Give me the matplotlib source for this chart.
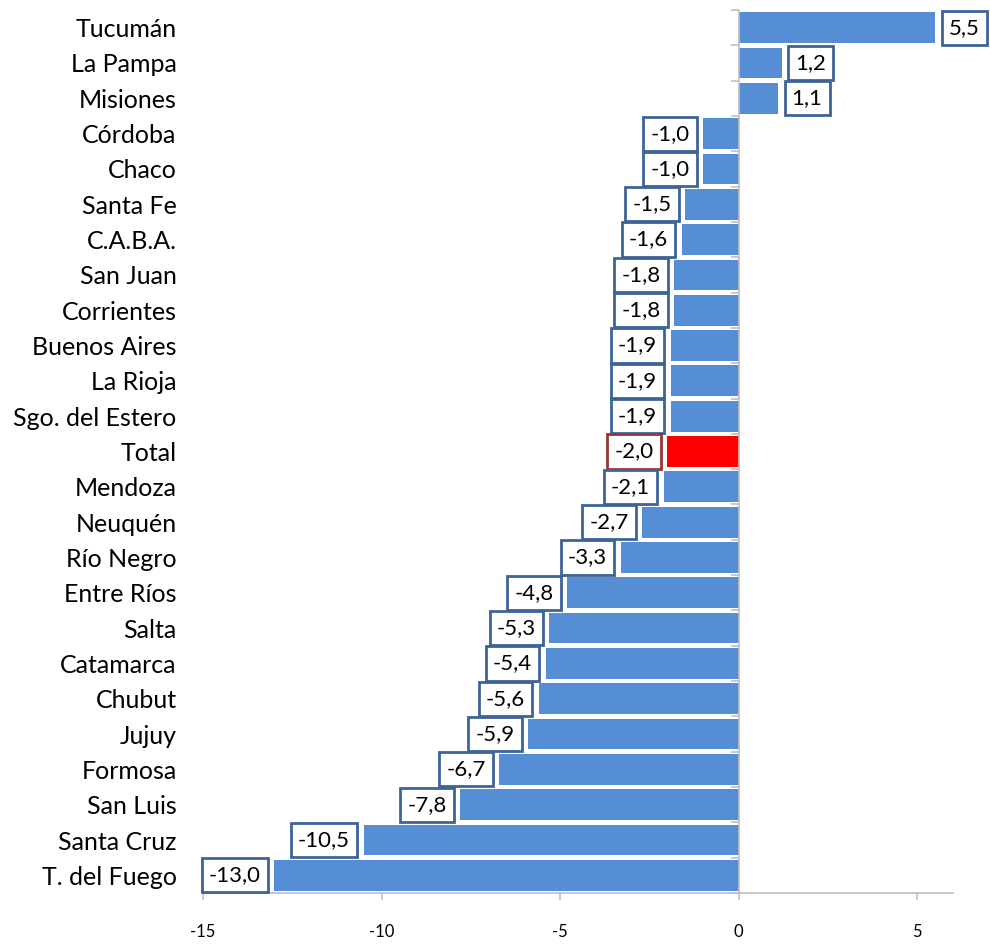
import matplotlib
matplotlib.use("Agg")
import matplotlib.pyplot as plt
import numpy as np

plt.rcParams['font.family'] = ['Lato', 'DejaVu Sans']

provinces = ["Tucumán", "La Pampa", "Misiones", "Córdoba", "Chaco", "Santa Fe",
             "C.A.B.A.", "San Juan", "Corrientes", "Buenos Aires", "La Rioja",
             "Sgo. del Estero", "Total", "Mendoza", "Neuquén", "Río Negro",
             "Entre Ríos", "Salta", "Catamarca", "Chubut", "Jujuy", "Formosa",
             "San Luis", "Santa Cruz", "T. del Fuego"]
values = [5.5, 1.2, 1.1, -1.0, -1.0, -1.5, -1.6, -1.8, -1.8, -1.9, -1.9, -1.9,
          -2.0, -2.1, -2.7, -3.3, -4.8, -5.3, -5.4, -5.6, -5.9, -6.7, -7.8,
          -10.5, -13.0]
x_ticks = [-15, -10, -5, 0, 5]

blue = "#558ed5"
red = "#ff0000"
box_blue = "#3c6497"
box_red = "#953735"
gray = "#bfbfbf"

fig = plt.figure(figsize=(9.9, 9.44), dpi=100)
ax = fig.add_axes([203/990, 1-893/944, (953-203)/990, (893-10)/944])

n = len(provinces)
y = np.arange(n)
colors = [red if p == "Total" else blue for p in provinces]
ax.barh(y, values, height=0.87, color=colors, zorder=2)

ax.set_xlim(-15, 6)
ax.set_ylim(n - 0.5, -0.5)

for i, (p, v) in enumerate(zip(provinces, values)):
    lab = f"{v:.1f}".replace(".", ",")
    ec = box_red if p == "Total" else box_blue
    off = 9.8 if v >= 0 else -9.8
    ax.annotate(lab, xy=(v, i), xytext=(off, 0), textcoords="offset points",
                ha="left" if v >= 0 else "right", va="center", fontsize=16,
                color="black",
                bbox=dict(boxstyle="square,pad=0.32", fc="white", ec=ec, lw=2),
                zorder=5)

# category labels at left
ax.set_yticks(y)
ax.set_yticklabels(provinces, fontsize=18)
ax.tick_params(axis="y", length=0, pad=19)
for s in ["left", "top", "right"]:
    ax.spines[s].set_visible(False)
ax.spines["bottom"].set_color(gray)
ax.spines["bottom"].set_linewidth(1.2)

ax.set_xticks(x_ticks)
ax.set_xticklabels([str(t) for t in x_ticks], fontsize=12)
ax.tick_params(axis="x", length=5, color=gray, width=1.2, pad=17)

# vertical axis at zero with category-boundary ticks
ax.axvline(0, color=gray, lw=1.2, zorder=3)
bounds = np.arange(n + 1) - 0.5
ax.plot(np.zeros(n + 1), bounds, linestyle="none", marker=0, markersize=6,
        markeredgewidth=1.2, color=gray, clip_on=False, zorder=3)

fig.savefig("out.png", dpi=100)
